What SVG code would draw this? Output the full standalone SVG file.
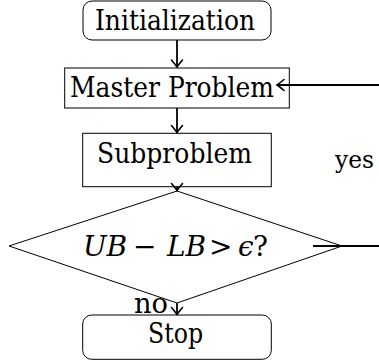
<svg xmlns="http://www.w3.org/2000/svg" width="379" height="364" viewBox="0 0 379 364">
<defs>
<marker id="arr" markerUnits="userSpaceOnUse" markerWidth="16" markerHeight="16" viewBox="-10 -8 12 16" refX="0" refY="0" orient="auto">
<path d="M-7,-5.5 Q-2,-1.3 0,0 Q-2,1.3 -7,5.5" fill="none" stroke="#000" stroke-width="1.6" stroke-linecap="round"/>
</marker>
</defs>
<g font-family="'DejaVu Serif', serif" font-size="28" fill="#000">
<g id="label-no"><text x="134" y="313" textLength="34" lengthAdjust="spacingAndGlyphs">no</text></g>
<g id="label-yes"><text x="335" y="168" font-size="25" textLength="39" lengthAdjust="spacingAndGlyphs">yes</text></g>
<g id="init"><rect x="83" y="1" width="188" height="39" rx="9" fill="#fff" stroke="#000" stroke-width="1"/><text x="95" y="30" textLength="160" lengthAdjust="spacingAndGlyphs">Initialization</text></g>
<g id="master"><rect x="64.7" y="68" width="224.6" height="40" fill="#fff" stroke="#000" stroke-width="1"/><text x="70" y="96.7" textLength="204" lengthAdjust="spacingAndGlyphs">Master Problem</text></g>
<g id="sub"><rect x="82.7" y="133.3" width="188.6" height="53.4" fill="#fff" stroke="#000" stroke-width="1"/><text x="97" y="163" textLength="155" lengthAdjust="spacingAndGlyphs">Subproblem</text></g>
<g id="decision"><polygon points="177,191 342,246 177,303 9,246" fill="#fff" stroke="#000" stroke-width="1"/><text y="256"><tspan x="83" font-style="italic">UB</tspan><tspan x="133">−</tspan><tspan x="167" font-style="italic">LB</tspan><tspan x="209">&gt;</tspan><tspan x="238" font-style="italic">ϵ</tspan><tspan x="253">?</tspan></text></g>
<g id="stop"><rect x="82.7" y="315" width="188.6" height="44.3" rx="9" fill="#fff" stroke="#000" stroke-width="1"/><text x="148" y="343" textLength="55" lengthAdjust="spacingAndGlyphs">Stop</text></g>
</g>
<g id="connectors" fill="none" stroke="#000" stroke-width="1.8">
<line x1="177" y1="40" x2="177" y2="67" marker-end="url(#arr)"/>
<line x1="177" y1="108" x2="177" y2="132.5" marker-end="url(#arr)"/>
<line x1="177" y1="186.7" x2="177" y2="190.5" marker-end="url(#arr)"/>
<line x1="177" y1="303" x2="177" y2="314.5" marker-end="url(#arr)"/>
<line x1="313" y1="246" x2="380" y2="246"/>
<line x1="380" y1="85" x2="277" y2="85" marker-end="url(#arr)"/>
</g>
</svg>
